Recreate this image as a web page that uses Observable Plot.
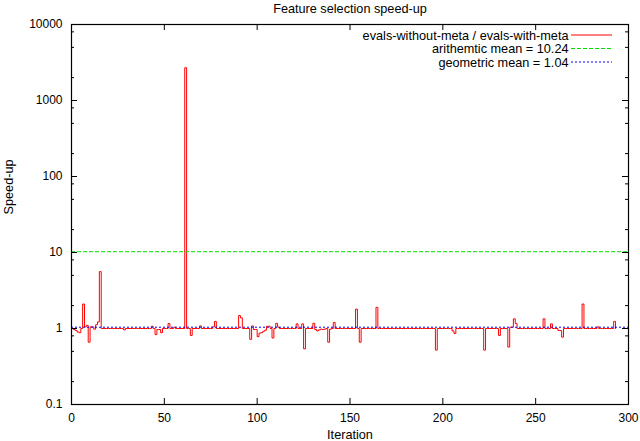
<!DOCTYPE html>
<html>
<head>
<meta charset="utf-8">
<script src="https://cdn.jsdelivr.net/npm/d3@7"></script>
<script src="https://cdn.jsdelivr.net/npm/@observablehq/plot@0.6"></script>
<style>
  html, body { margin: 0; padding: 0; background: #fff; }
  svg { display: block; }
</style>
</head>
<body>
<div id="chart"></div>
<script>
// ---- data ----
const title = "Feature selection speed-up";
const xLabel = "Iteration";
const yLabel = "Speed-up";

const speedup = [
  1.00, 0.97, 0.94, 0.90, 0.88, 1.00, 2.10, 1.05, 1.10, 0.66,
  1.05, 1.05, 0.98, 1.12, 1.22, 5.60, 1.00, 1.00, 1.00, 1.00,
  1.00, 1.00, 1.00, 1.00, 1.00, 1.00, 1.00, 1.00, 0.96, 1.00,
  1.00, 1.00, 1.00, 1.00, 1.00, 1.00, 1.00, 1.00, 1.00, 1.00,
  1.00, 1.00, 1.00, 1.07, 1.00, 0.83, 0.97, 0.97, 0.88, 1.00,
  1.00, 1.00, 1.16, 1.00, 1.00, 1.04, 1.00, 1.00, 1.00, 1.00,
  1.00, 2700, 1.00, 1.00, 0.81, 1.00, 1.00, 1.00, 1.00, 1.08,
  1.00, 1.00, 1.00, 1.00, 1.00, 1.00, 1.05, 1.24, 1.00, 1.00,
  1.00, 1.00, 1.00, 1.00, 1.00, 1.00, 1.00, 1.00, 1.00, 1.00,
  1.48, 1.38, 1.00, 1.00, 1.00, 1.00, 0.72, 1.08, 0.97, 0.97,
  0.78, 0.87, 0.88, 0.92, 0.95, 1.07, 1.07, 1.00, 0.75, 1.00,
  1.17, 1.04, 1.00, 1.00, 1.00, 1.00, 1.00, 1.00, 1.00, 1.00,
  1.00, 1.15, 1.00, 1.00, 1.15, 0.54, 1.00, 1.00, 1.00, 1.00,
  1.17, 0.97, 0.93, 0.96, 0.98, 0.97, 0.98, 1.00, 0.66, 0.98,
  1.00, 1.20, 1.00, 1.00, 1.00, 1.00, 1.00, 1.00, 1.00, 1.00,
  1.00, 1.00, 1.00, 1.80, 1.00, 0.66, 1.00, 1.00, 1.00, 1.00,
  1.00, 1.00, 1.00, 1.00, 1.90, 1.00, 1.00, 1.00, 1.00, 1.00,
  1.00, 1.00, 1.00, 1.00, 1.00, 1.00, 1.00, 1.00, 1.00, 1.00,
  1.00, 1.00, 1.00, 1.00, 1.00, 1.00, 1.00, 1.00, 1.00, 1.00,
  1.00, 1.00, 1.00, 1.00, 1.00, 1.00, 0.52, 1.00, 1.00, 1.00,
  1.00, 1.00, 1.00, 1.00, 1.00, 0.93, 0.86, 1.00, 1.00, 1.00,
  1.00, 1.00, 1.00, 1.00, 1.00, 1.00, 1.00, 1.00, 1.00, 1.00,
  1.00, 1.00, 0.52, 1.00, 1.00, 1.00, 1.00, 1.00, 1.00, 1.00,
  0.81, 1.00, 1.00, 1.00, 1.00, 0.57, 1.04, 1.04, 1.34, 1.16,
  1.00, 1.00, 1.00, 1.00, 1.00, 1.00, 1.00, 1.00, 1.00, 1.00,
  1.00, 1.00, 1.00, 1.00, 1.34, 1.00, 1.00, 1.00, 1.15, 1.00,
  1.00, 1.00, 0.94, 0.94, 0.77, 1.00, 1.00, 1.00, 1.00, 1.00,
  1.00, 1.00, 1.00, 1.00, 1.00, 2.10, 1.00, 1.00, 1.00, 1.00,
  1.00, 1.00, 1.00, 1.05, 1.00, 1.00, 1.00, 1.00, 1.00, 1.00,
  1.00, 1.00, 1.24, 1.00
];

const arithMean = 10.24;
const geoMean = 1.04;

const seriesNames = [
  "evals-without-meta / evals-with-meta",
  "arithemtic mean = 10.24",
  "geometric mean = 1.04"
];
const seriesColors = ["#ff0000", "#00e000", "#0000ff"];
const seriesDash = [null, "4,2", "2,2"];

const xTicks = [0, 50, 100, 150, 200, 250, 300];
const yTicks = [0.1, 1, 10, 100, 1000, 10000];
const yTickLabels = ["0.1", "1", "10", "100", "1000", "10000"];
const yMinorTicks = [0.2, 0.5, 0.8, 2, 5, 8, 20, 50, 80, 200, 500, 800, 2000, 5000, 8000];

// ---- layout ----
const W = 640, H = 441;
const mL = 71, mR = 12, mT = 24, mB = 37;
const pw = W - mL - mR, ph = H - mT - mB;
const font = "'Liberation Sans', Arial, Helvetica, sans-serif";
const textSize = 12.7;

const rows = speedup.map((v, i) => ({iter: i, v}));

const legendTexts = seriesNames.map((name, k) =>
  Plot.text([name], {
    frameAnchor: "top-right", dx: -60, dy: 11 + k * 13.5,
    textAnchor: "end", lineAnchor: "middle", fill: "black", fontSize: textSize
  })
);

const svg = Plot.plot({
  width: W, height: H,
  marginLeft: mL, marginRight: mR, marginTop: mT, marginBottom: mB,
  style: {fontFamily: font, fontSize: "12px", background: "white", color: "black"},
  x: {domain: [0, 300], ticks: xTicks, tickSize: 0, tickPadding: 9, label: null},
  y: {type: "log", domain: [0.1, 10000], ticks: yTicks,
      tickFormat: d => yTickLabels[yTicks.indexOf(d)], tickSize: 0, tickPadding: 9, label: null},
  marks: [
    Plot.line(rows, {x: "iter", y: "v", curve: "step-after", stroke: seriesColors[0], strokeWidth: 1}),
    Plot.ruleY([arithMean], {stroke: seriesColors[1], strokeWidth: 1, strokeDasharray: seriesDash[1]}),
    Plot.ruleY([geoMean], {stroke: seriesColors[2], strokeWidth: 1, strokeDasharray: seriesDash[2]}),
    // ticks (inward, mirrored)
    Plot.tickX(xTicks, {x: d => d, insetTop: ph - 6, stroke: "black"}),
    Plot.tickX(xTicks, {x: d => d, insetBottom: ph - 6, stroke: "black"}),
    Plot.tickY(yTicks, {y: d => d, insetRight: pw - 6, stroke: "black"}),
    Plot.tickY(yTicks, {y: d => d, insetLeft: pw - 6, stroke: "black"}),
    Plot.tickY(yMinorTicks, {y: d => d, insetRight: pw - 3, stroke: "black"}),
    Plot.tickY(yMinorTicks, {y: d => d, insetLeft: pw - 3, stroke: "black"}),
    Plot.frame({stroke: "black", strokeWidth: 1.2}),
    // texts
    Plot.text([title], {frameAnchor: "top", dy: -16, lineAnchor: "middle", fill: "black", fontSize: textSize}),
    Plot.text([xLabel], {frameAnchor: "bottom", dy: 30, lineAnchor: "middle", fill: "black", fontSize: textSize}),
    Plot.text([yLabel], {frameAnchor: "left", dx: -63, rotate: -90, lineAnchor: "middle", fill: "black", fontSize: textSize}),
    ...legendTexts
  ]
});

// legend line samples
const g = d3.select(svg).append("g");
seriesNames.forEach((name, k) => {
  const y = mT + 11 + k * 13.5;
  g.append("line")
    .attr("x1", W - mR - 57).attr("x2", W - mR - 16)
    .attr("y1", y).attr("y2", y)
    .attr("stroke", seriesColors[k])
    .attr("stroke-width", 1)
    .attr("stroke-dasharray", seriesDash[k]);
});

document.getElementById("chart").appendChild(svg);
</script>
</body>
</html>
